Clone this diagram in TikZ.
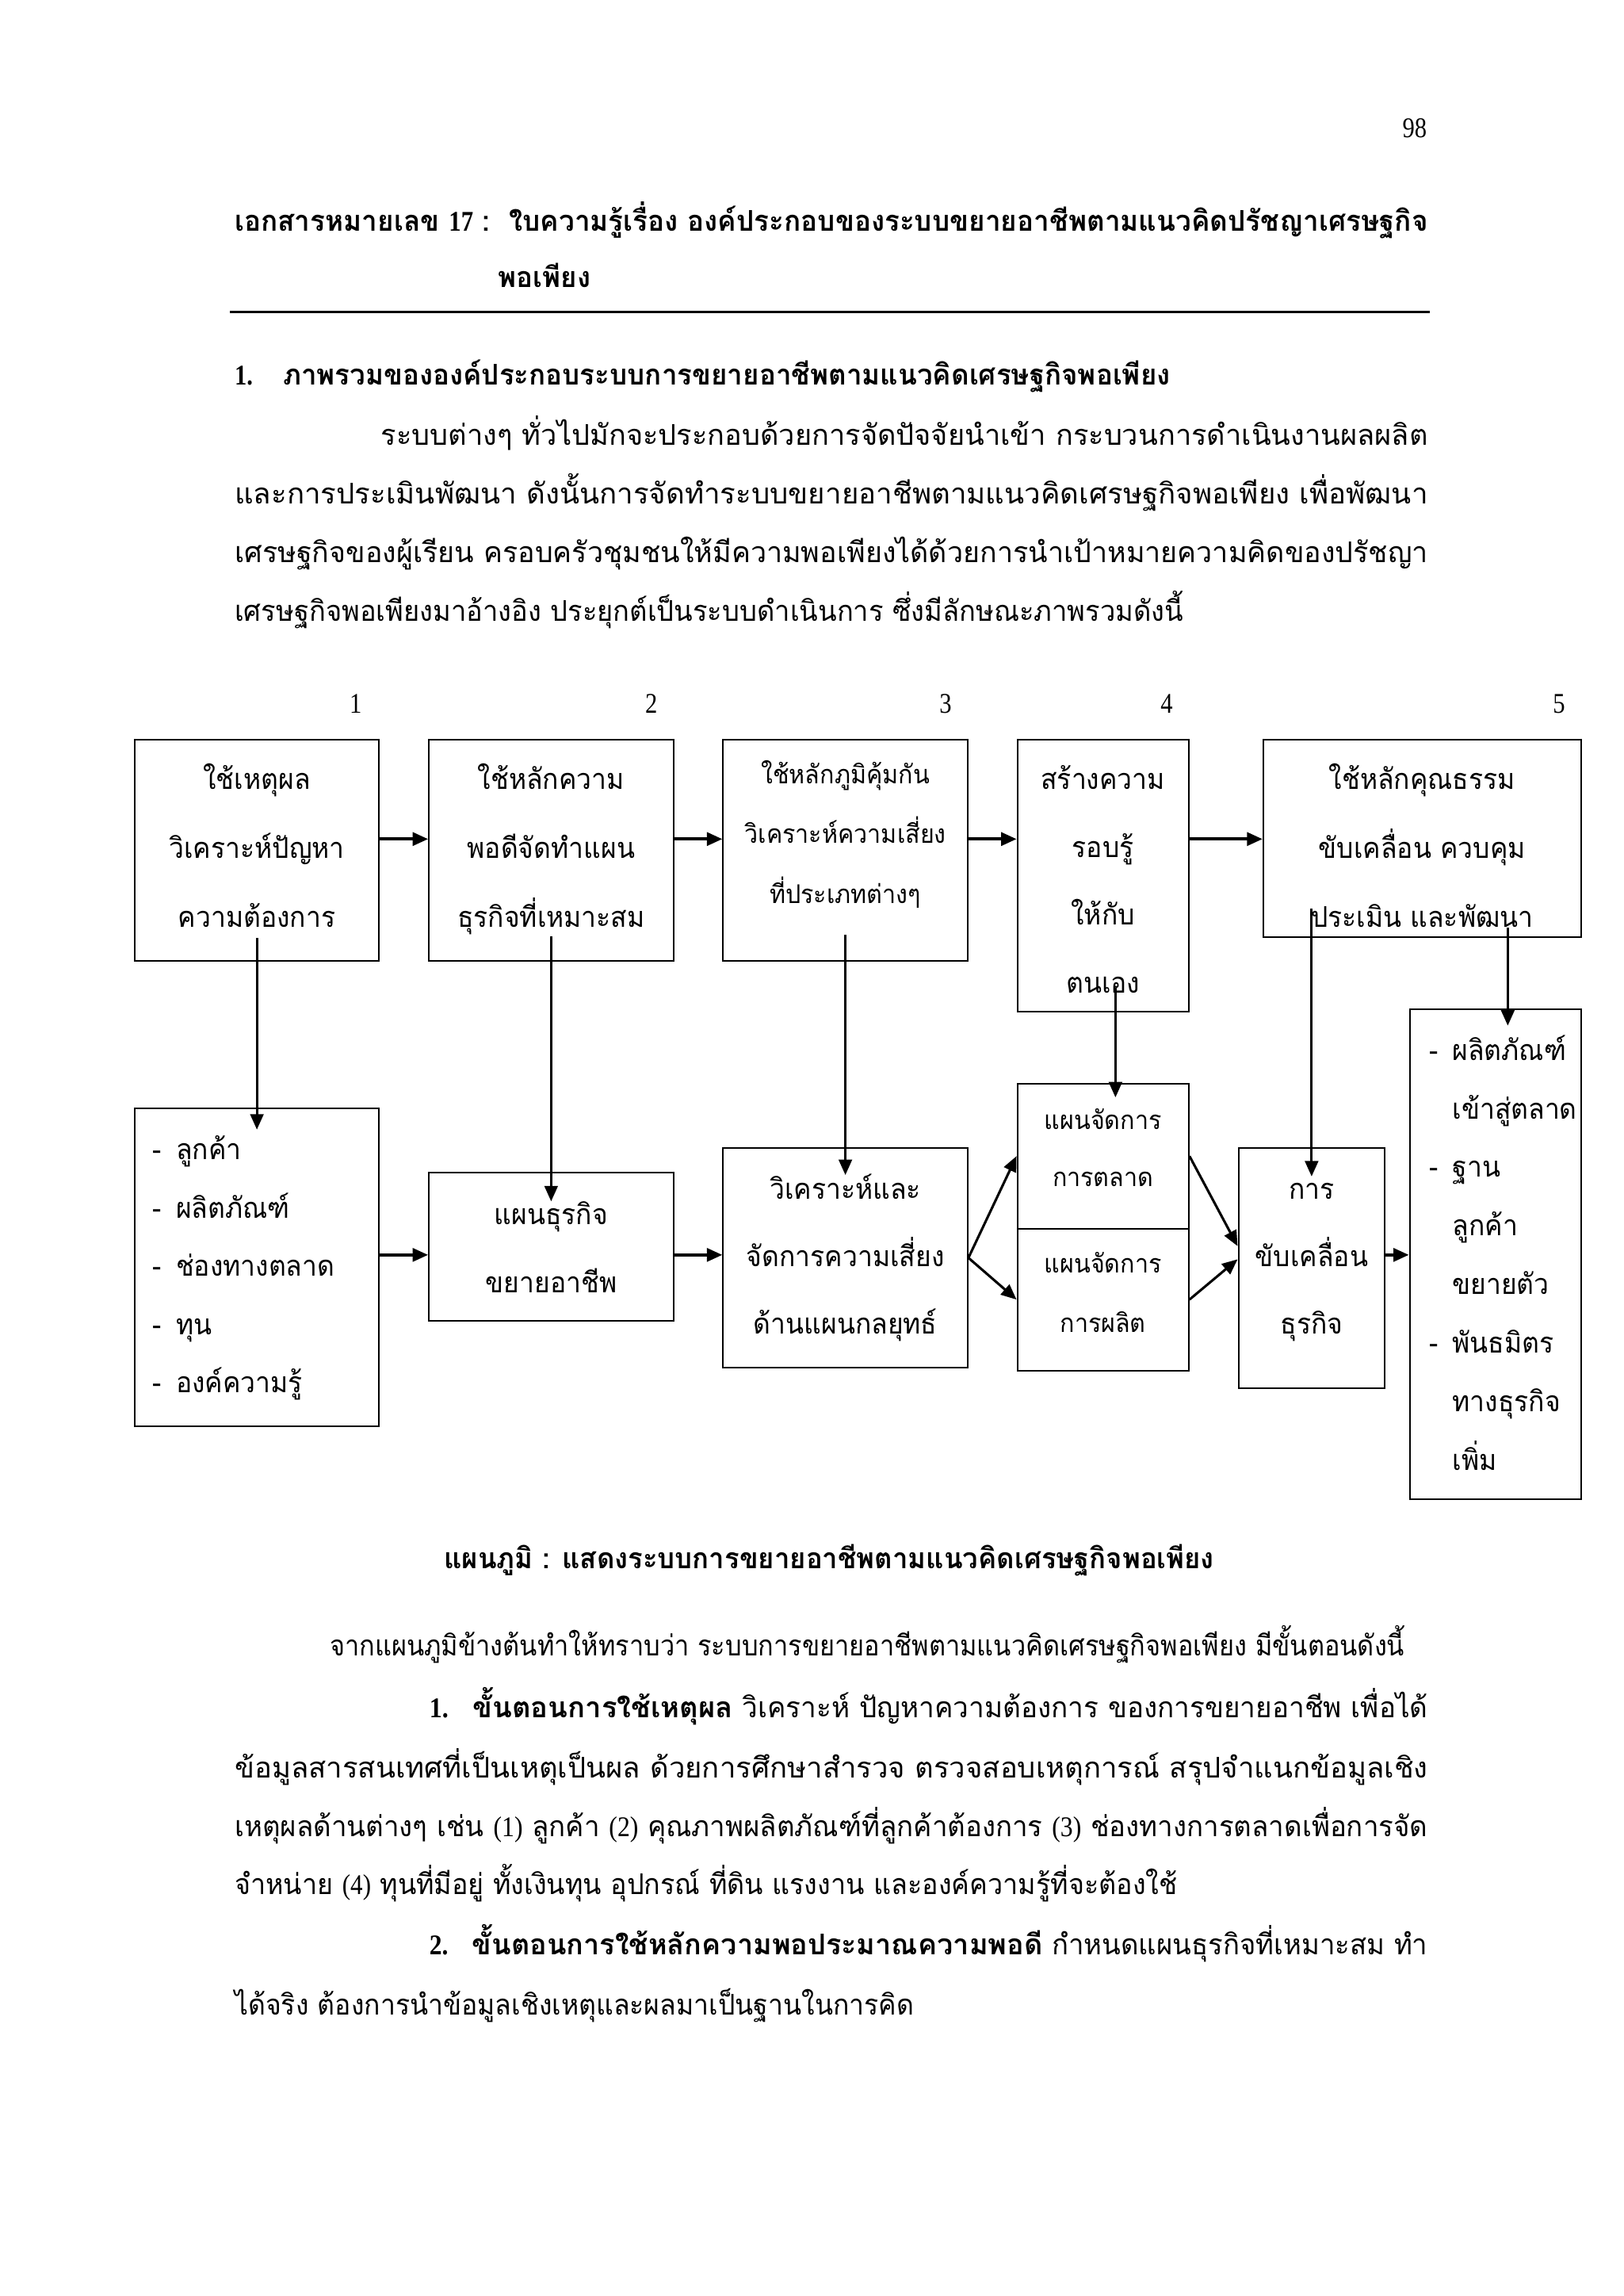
\documentclass[tikz,border=0pt]{standalone}
\usepackage{graphicx}
\usepackage{fontspec}
\setmainfont{Liberation Serif}
\newfontfamily\thaifont[Script=Thai,
  UprightFeatures={FakeStretch=0.935},
  BoldFeatures={FakeStretch=0.97}]{Loma}
\newfontfamily\latfont[FakeStretch=0.85]{Liberation Serif}
\usetikzlibrary{calc}
\usetikzlibrary{arrows.meta}

\newcommand{\px}{0.018937cm}
\newcommand{\dg}[1]{{\latfont #1}}
\newcommand{\itemdash}{\makebox[0.3cm][l]{-}}
\newcommand{\itemgap}{\hspace{0.3cm}}

\tikzset{
  box/.style={draw,line width=0.6pt,inner sep=0pt},
  arr/.style={line width=0.9pt,-{Triangle[length=2mm,width=1.7mm]}},
  harr/.style={arr,line width=1.1pt},
  txt/.style={inner sep=0pt,font=\thaifont\fontsize{10.5}{12}\selectfont},
  bold/.style={txt,font=\thaifont\bfseries\fontsize{10.5}{12}\selectfont},
  small/.style={txt,font=\thaifont\fontsize{9.5}{11}\selectfont},
  num/.style={inner sep=0pt,font=\latfont\fontsize{10.5}{12}\selectfont},
}

% a box from corner to corner {{{
\newcommand{\flowbox}[5]{%
  \node[box,minimum width={(#4-#2)*\px},minimum height={(#5-#3)*\px}]
    (#1) at ({(#2+#4)/2},{(#3+#5)/2}) {};
}
%}}}
% lines of a box, centred or flush left {{{
\newcommand{\boxlines}[6][txt]{%
  \foreach \l [count=\i] in {#6}
    \node[#1,anchor=base] (#2-\i) at (#3,{#4+(\i-1)*#5}) {\l};
}
\newcommand{\leftlines}[5]{%
  \foreach \l [count=\i] in {#5}
    \node[txt,anchor=base west] (#1-\i) at (#2,{#3+(\i-1)*#4}) {\l};
}
%}}}
% a line of the page, set from x1 to x2 {{{
\newcommand{\fitline}[5]{%
  \pgfmathsetlengthmacro\jw{(#3-#2)*\px}
  \node[txt,anchor=base west] (#1) at (#2,#4) {\resizebox{\jw}{\height}{#5}};
}
%}}}

\begin{document}
\begin{tikzpicture}[x=\px,y=-\px]
  \fill[white,use as bounding box] (0,0) rectangle (1109,1568);

  % Head {{{
  \node[num,anchor=base east] (page) at (975,94) {98};
  \fitline{title}{160}{975}{158}{\bfseries เอกสารหมายเลข \dg{17} :\ \ ใบความรู้เรื่อง องค์ประกอบของระบบขยายอาชีพตามแนวคิดปรัชญาเศรษฐกิจ}
  \node[bold,anchor=base west] (title2) at (340,196) {พอเพียง};
  \coordinate (ruleL) at (157,213);
  \coordinate (ruleR) at (977,213);
  \draw[line width=1.1pt] (ruleL) -- (ruleR);

  \node[bold,anchor=base west] (secnum) at (160,263) {\dg{1.}};
  \fitline{sec}{193}{799}{263}{\bfseries ภาพรวมขององค์ประกอบระบบการขยายอาชีพตามแนวคิดเศรษฐกิจพอเพียง}
  \fitline{p1}{260}{975}{304}{ระบบต่างๆ ทั่วไปมักจะประกอบด้วยการจัดปัจจัยนำเข้า กระบวนการดำเนินงานผลผลิต}
  \fitline{p2}{160}{975}{344}{และการประเมินพัฒนา ดังนั้นการจัดทำระบบขยายอาชีพตามแนวคิดเศรษฐกิจพอเพียง เพื่อพัฒนา}
  \fitline{p3}{160}{975}{384}{เศรษฐกิจของผู้เรียน ครอบครัวชุมชนให้มีความพอเพียงได้ด้วยการนำเป้าหมายความคิดของปรัชญา}
  \fitline{p4}{160}{808}{424}{เศรษฐกิจพอเพียงมาอ้างอิง ประยุกต์เป็นระบบดำเนินการ ซึ่งมีลักษณะภาพรวมดังนี้}
  %}}}

  % Chart {{{
  \foreach \x/\n in {243/1,445/2,646/3,797/4,1065/5}
    \node[num,anchor=base] (n\n) at (\x,487) {\n};

  \flowbox{b1}{92}{505}{259}{656}
  \flowbox{b2}{293}{505}{460}{656}
  \flowbox{b3}{494}{505}{661}{656}
  \flowbox{b4}{695}{505}{812}{691}
  \flowbox{b5}{863}{505}{1080}{640}
  \flowbox{b6}{92}{757}{259}{974}
  \flowbox{b7}{293}{801}{460}{902}
  \flowbox{b8}{494}{784}{661}{934}
  \flowbox{b9}{695}{740}{812}{839}
  \flowbox{b10}{695}{839}{812}{936}
  \flowbox{b11}{846}{784}{946}{948}
  \flowbox{b12}{963}{689}{1080}{1024}

  \boxlines{t1}{175.5}{539}{47}{ใช้เหตุผล,วิเคราะห์ปัญหา,ความต้องการ}
  \boxlines{t2}{376.5}{539}{47}{ใช้หลักความ,พอดีจัดทำแผน,ธุรกิจที่เหมาะสม}
  \boxlines[small]{t3}{577.5}{535}{41}{ใช้หลักภูมิคุ้มกัน,วิเคราะห์ความเสี่ยง,ที่ประเภทต่างๆ}
  \boxlines{t4}{753.5}{539}{46.3}{สร้างความ,รอบรู้,ให้กับ,ตนเอง}
  \boxlines{t5}{971.5}{539}{47}{ใช้หลักคุณธรรม,ขับเคลื่อน ควบคุม,ประเมิน และพัฒนา}
  \leftlines{t6}{104}{792}{39.75}{\itemdash ลูกค้า,\itemdash ผลิตภัณฑ์,\itemdash ช่องทางตลาด,\itemdash ทุน,\itemdash องค์ความรู้}
  \boxlines{t7}{376.5}{836}{47}{แผนธุรกิจ,ขยายอาชีพ}
  \boxlines{t8}{577.5}{819}{46}{วิเคราะห์และ,จัดการความเสี่ยง,ด้านแผนกลยุทธ์}
  \boxlines[small]{t9}{753.5}{771}{39}{แผนจัดการ,การตลาด}
  \boxlines[small]{t10}{753.5}{869}{41}{แผนจัดการ,การผลิต}
  \boxlines{t11}{896}{819}{46}{การ,ขับเคลื่อน,ธุรกิจ}
  \leftlines{t12}{976}{724}{40}{\itemdash ผลิตภัณฑ์,\itemgap เข้าสู่ตลาด,\itemdash ฐาน,\itemgap ลูกค้า,\itemgap ขยายตัว,\itemdash พันธมิตร,\itemgap ทางธุรกิจ,\itemgap เพิ่ม}

  % upper row
  \coordinate (r1) at (0,573);
  \draw[harr] (b1.east |- r1) -- (b2.west |- r1);
  \draw[harr] (b2.east |- r1) -- (b3.west |- r1);
  \draw[harr] (b3.east |- r1) -- (b4.west |- r1);
  \draw[harr] (b4.east |- r1) -- (b5.west |- r1);

  % down
  \coordinate (c4) at (762,0);
  \coordinate (c5) at (1030,0);
  \draw[arr] ($(b1.south)+(0,-16)$) -- ($(b6.north)+(0,15)$);
  \draw[arr] ($(b2.south)+(0,-17)$) -- ($(b7.north)+(0,20)$);
  \draw[arr] ($(b3.south)+(0,-18)$) -- ($(b8.north)+(0,19)$);
  \draw[arr] ($(c4 |- b4.south)+(0,-17)$) -- ($(c4 |- b9.north)+(0,10)$);
  \draw[arr] ($(b5.south -| b11.north)+(0,-20)$) -- ($(b11.north)+(0,20)$);
  \draw[arr] ($(c5 |- b5.south)+(0,-7)$) -- ($(c5 |- b12.north)+(0,12)$);

  % lower row
  \coordinate (r2) at (0,857);
  \draw[harr] (b6.east |- r2) -- (b7.west |- r2);
  \draw[harr] (b7.east |- r2) -- (b8.west |- r2);
  \draw[arr] (b8.east) -- (b9.west);
  \draw[arr] (b8.east) -- (b10.west);
  \draw[arr] (b9.east) -- ($(b11.west)+(0,-15)$);
  \draw[arr] (b10.east) -- ($(b11.west)+(0,-6)$);
  \draw[harr] (b11.east |- r2) -- (b12.west |- r2);
  %}}}

  % Text below {{{
  \fitline{caption}{303}{829}{1071}{\bfseries แผนภูมิ : แสดงระบบการขยายอาชีพตามแนวคิดเศรษฐกิจพอเพียง}
  \fitline{q0}{225}{959}{1131}{จากแผนภูมิข้างต้นทำให้ทราบว่า ระบบการขยายอาชีพตามแนวคิดเศรษฐกิจพอเพียง มีขั้นตอนดังนี้}
  \fitline{q1}{293}{975}{1173}{{\bfseries\dg{1.}\hspace{0.3cm}ขั้นตอนการใช้เหตุผล} วิเคราะห์ ปัญหาความต้องการ ของการขยายอาชีพ เพื่อได้}
  \fitline{q2}{160}{975}{1214}{ข้อมูลสารสนเทศที่เป็นเหตุเป็นผล ด้วยการศึกษาสำรวจ ตรวจสอบเหตุการณ์ สรุปจำแนกข้อมูลเชิง}
  \fitline{q3}{160}{975}{1254}{เหตุผลด้านต่างๆ เช่น \dg{(1)} ลูกค้า \dg{(2)} คุณภาพผลิตภัณฑ์ที่ลูกค้าต้องการ \dg{(3)} ช่องทางการตลาดเพื่อการจัด}
  \fitline{q4}{160}{804}{1294}{จำหน่าย \dg{(4)} ทุนที่มีอยู่ ทั้งเงินทุน อุปกรณ์ ที่ดิน แรงงาน และองค์ความรู้ที่จะต้องใช้}
  \fitline{q5}{293}{975}{1335}{{\bfseries\dg{2.}\hspace{0.3cm}ขั้นตอนการใช้หลักความพอประมาณความพอดี} กำหนดแผนธุรกิจที่เหมาะสม ทำ}
  \fitline{q6}{160}{624}{1376}{ได้จริง ต้องการนำข้อมูลเชิงเหตุและผลมาเป็นฐานในการคิด}
  %}}}
\end{tikzpicture}
\end{document}
